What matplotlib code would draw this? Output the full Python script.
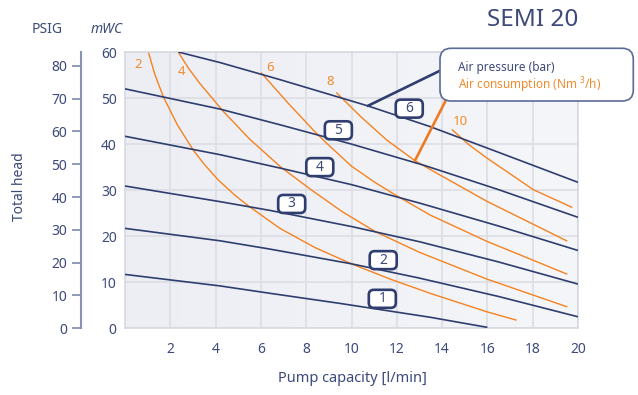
import numpy as np
import matplotlib
matplotlib.use("Agg")
import matplotlib.pyplot as plt
from matplotlib.colors import LinearSegmentedColormap
from matplotlib.patches import FancyBboxPatch
from matplotlib.transforms import IdentityTransform

plt.rcParams["font.family"] = ["Noto Sans", "DejaVu Sans"]
plt.rcParams["mathtext.fontset"] = "custom"
plt.rcParams["mathtext.rm"] = "Noto Sans"

NAVY = "#2f3e6e"
TEXT = "#3d4a7a"
ORANGE = "#f5821f"
ORANGE_TXT = "#f28a2c"

# Air pressure curves (bar): capacity [l/min] -> head [mWC]
pressure_names = ["1", "2", "3", "4", "5", "6"]
pressure_x = [
    [0, 4.2, 6.4, 9.5, 13.47, 16.0],
    [0, 4.2, 6.4, 10.0, 13.0, 16.5, 20],
    [0, 4.2, 6.4, 10.0, 13.0, 16.5, 20],
    [0, 4.2, 6.84, 10.0, 13.0, 16.5, 20],
    [0, 4.2, 6.84, 10.0, 13.2, 16.5, 20],
    [2.35, 4.2, 6.84, 10.72, 13.47, 16.5, 20],
]
pressure_y = [
    [11.7, 9.2, 7.6, 5.4, 2.4, 0.2],
    [21.7, 19.0, 17.2, 14.0, 10.9, 6.9, 2.5],
    [30.9, 27.5, 25.6, 22.1, 18.8, 14.4, 9.6],
    [41.7, 37.7, 34.8, 31.2, 27.2, 22.2, 16.9],
    [52.0, 47.6, 44.2, 40.0, 35.4, 30.1, 24.1],
    [60.0, 57.7, 54.0, 48.3, 43.8, 38.2, 31.7],
]
pressure_label_pos = [(11.36, 6.4), (11.4, 14.8), (7.36, 27.0), (8.6, 35.0), (9.42, 43.0), (12.55, 47.7)]

# Air consumption curves (Nm3/h)
consumption_names = ["2", "4", "6", "8", "10"]
consumption_x = [
    [1.03, 1.32, 1.69, 2.31, 3.0, 3.5, 4.12, 4.83, 5.44, 6.84, 8.4, 10.0, 11.7, 13.47, 15.97, 17.26],
    [2.35, 2.8, 3.3, 4.34, 5.5, 6.88, 8.24, 9.6, 11.05, 13.0, 15.97, 19.5],
    [6.03, 7.2, 8.4, 8.9, 10.0, 11.0, 11.92, 13.47, 15.97, 19.5],
    [9.35, 10.4, 11.55, 12.8, 13.47, 15.97, 19.5],
    [14.45, 15.2, 15.97, 18.03, 19.72],
]
consumption_y = [
    [60.0, 55.1, 50.3, 44.2, 38.8, 35.6, 32.2, 29.0, 26.6, 21.7, 17.5, 14.0, 10.7, 7.6, 3.6, 1.8],
    [60.0, 56.5, 53.2, 47.1, 41.1, 35.0, 30.0, 25.3, 21.0, 16.5, 10.7, 4.7],
    [55.4, 48.9, 42.6, 40.2, 35.2, 31.8, 29.0, 24.6, 18.9, 11.8],
    [51.1, 46.0, 40.9, 36.4, 34.5, 27.6, 19.0],
    [43.1, 39.8, 37.0, 30.1, 26.3],
]
consumption_label_pos = [(0.6, 57.2), (2.5, 55.7), (6.4, 56.7), (9.05, 53.5), (14.8, 44.9)]

x_ticks = [2, 4, 6, 8, 10, 12, 14, 16, 18, 20]
mwc_ticks = [0, 10, 20, 30, 40, 50, 60]
psig_ticks = [0, 10, 20, 30, 40, 50, 60, 70, 80]

W, H = 638, 395
fig = plt.figure(figsize=(W / 100, H / 100), dpi=100)

# main chart area
ax = fig.add_axes([125 / W, 1 - 328.3 / H, 453 / W, 276.3 / H])
bg = LinearSegmentedColormap.from_list("bg", ["#eceef4", "#f5f6f9"])
ax.imshow(np.linspace(0, 1, 256).reshape(1, -1), extent=[0, 20, 0, 60], aspect="auto", cmap=bg, zorder=0)
ax.set_xlim(0, 20)
ax.set_ylim(0, 60)
ax.set_xticks(x_ticks)
ax.set_yticks(mwc_ticks)
ax.grid(True, color="#dcdee3", linewidth=1.2)
ax.set_axisbelow(True)
ax.tick_params(length=0, labelsize=10, colors=TEXT)
ax.tick_params(axis="x", pad=10)
ax.tick_params(axis="y", pad=6)
for s in ax.spines.values():
    s.set_color("#d6d9df")
    s.set_linewidth(1.2)

for xs, ys in zip(pressure_x, pressure_y):
    ax.plot(xs, ys, color=NAVY, linewidth=1.2, zorder=3, solid_capstyle="butt")
for xs, ys in zip(consumption_x, consumption_y):
    ax.plot(xs, ys, color=ORANGE, linewidth=1.0, zorder=2, solid_joinstyle="round")

# boxed pressure labels, fixed pixel size boxes
for name, (px, py) in zip(pressure_names, pressure_label_pos):
    cx, cy = ax.transData.transform((px, py))
    patch = FancyBboxPatch((cx - 13.5, cy - 9), 27, 18, boxstyle="round,pad=0,rounding_size=5",
                           transform=IdentityTransform(), fc="white", ec=NAVY, lw=1.9, zorder=4, clip_on=False)
    ax.add_artist(patch)
    ax.text(px, py, name, ha="center", va="center", fontsize=10, color=TEXT, zorder=5)
for name, (px, py) in zip(consumption_names, consumption_label_pos):
    ax.text(px, py, name, ha="center", va="center", fontsize=9.5, color=ORANGE_TXT, zorder=5)

# PSIG scale on the far left
pax = fig.add_axes([81 / W, 1 - 328.3 / H, 0.0001, 276.3 / H])
pax.set_ylim(0, 84.2)
pax.set_yticks(psig_ticks)
pax.set_xticks([])
pax.patch.set_visible(False)
for k in ["top", "right", "bottom"]:
    pax.spines[k].set_visible(False)
pax.spines["left"].set_color("#8793b5")
pax.spines["left"].set_linewidth(1.5)
pax.tick_params(axis="y", length=6.5, width=1.3, color="#8793b5", labelsize=10, labelcolor=TEXT, pad=3.5)

# callout box
box = FancyBboxPatch((440, H - 101), 193.3, 52.7, boxstyle="round,pad=0,rounding_size=11",
                     transform=IdentityTransform(), fc="white", ec="#5b6a96", lw=1.2, zorder=10)
fig.patches.append(box)
fig.text(458 / W, 1 - 67 / H, "Air pressure (bar)", fontsize=8.5, color=TEXT, va="center", zorder=11)
fig.text(458 / W, 1 - 85 / H, "Air consumption (Nm $^{3}$/h)", fontsize=8.5, color=ORANGE_TXT, va="center", zorder=11)

ax.annotate("", xy=(10.72, 48.3), xytext=(440 / W, 1 - 70.7 / H), textcoords="figure fraction",
            arrowprops=dict(arrowstyle="-", color=NAVY, lw=1.9, shrinkA=0, shrinkB=0), annotation_clip=False, zorder=6)
ax.annotate("", xy=(12.8, 36.4), xytext=(446 / W, 1 - 100 / H), textcoords="figure fraction",
            arrowprops=dict(arrowstyle="-", color="#f07a22", lw=1.9, shrinkA=0, shrinkB=0), annotation_clip=False, zorder=6)

# labels and title
fig.text(47 / W, 1 - 29.3 / H, "PSIG", fontsize=10, color=TEXT, ha="center", va="center")
fig.text(107 / W, 1 - 29.3 / H, "mWC", fontsize=10, color=TEXT, ha="center", va="center", style="italic")
fig.text(20 / W, 1 - 187 / H, "Total head", fontsize=10, color=TEXT, ha="center", va="center", rotation=90)
fig.text(352 / W, 1 - 378 / H, "Pump capacity [l/min]", fontsize=10.5, color=TEXT, ha="center", va="center")
fig.text(578 / W, 1 - 20 / H, "SEMI 20", fontsize=17.5, color=TEXT, ha="right", va="center")

fig.savefig("out.png", dpi=100)
